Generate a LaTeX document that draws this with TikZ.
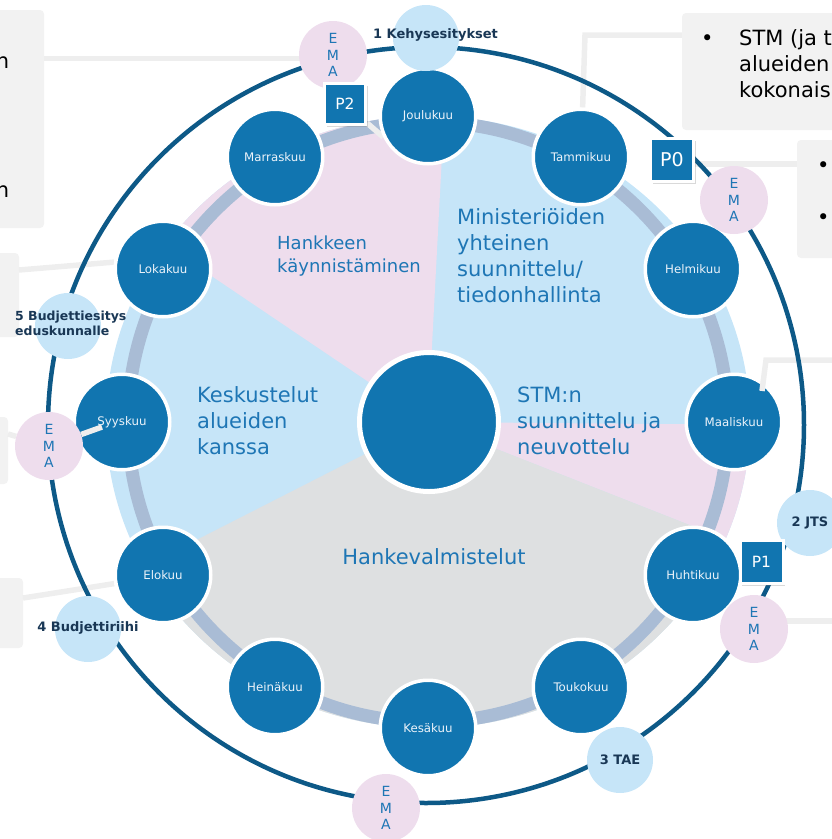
\documentclass[tikz,border=0pt]{standalone}
\usepackage{fontspec}
\setmainfont{DejaVu Sans}
\usetikzlibrary{shadows,calc}
\definecolor{mblue}{RGB}{17,117,176}
\definecolor{ringc}{RGB}{13,89,135}
\definecolor{pinkc}{RGB}{238,221,237}
\definecolor{lblue}{RGB}{198,229,248}
\definecolor{grayc}{RGB}{222,224,225}
\definecolor{trackc}{RGB}{169,188,213}
\definecolor{txtblue}{RGB}{30,118,181}
\definecolor{navy}{RGB}{25,55,85}
\definecolor{boxg}{RGB}{242,242,242}
\definecolor{lineg}{RGB}{238,238,238}
\definecolor{mtext}{RGB}{236,243,250}
\pgfdeclarelayer{back}
\pgfdeclarelayer{lines}
\pgfdeclarelayer{over}
\pgfdeclarelayer{ringl}
\pgfdeclarelayer{top}
\pgfsetlayers{back,lines,main,over,ringl,top}
\begin{document}
\begin{tikzpicture}[x=1pt,y=-1pt,
 conn/.style={draw=lineg, line width=5.5pt},
 gbox/.style={fill=boxg, rounded corners=4pt, inner sep=0pt},
 month/.style={circle, fill=mblue, draw=white, line width=3.5pt, minimum size=95.5pt, inner sep=0pt, text=mtext, font=\fontsize{11.8}{14}\selectfont},
 hub/.style={circle, fill=mblue, draw=white, line width=5pt, minimum size=139pt, inner sep=0pt},
 mstone/.style={circle, fill=lblue, minimum size=66pt, inner sep=0pt},
 mstext/.style={font=\bfseries\fontsize{13}{15}\selectfont, text=navy, inner sep=0pt},
 ema/.style={circle, fill=pinkc, minimum size=68pt, inner sep=0pt, align=center, text=txtblue, font=\fontsize{14}{16.5}\selectfont},
 pbox/.style={rectangle, fill=mblue, draw=white, line width=3pt, text=white, inner sep=0pt, drop shadow={shadow xshift=2pt, shadow yshift=-2pt, opacity=0.3}},
 seclab/.style={text=txtblue, align=left, inner sep=0pt, font=\fontsize{21}{26}\selectfont},
 boxtext/.style={text=black, inner sep=0pt, font=\fontsize{21}{26}\selectfont},
]
\useasboundingbox (0,0) rectangle (832,839);

% ---------- background: callout boxes, wheel ----------
\begin{pgfonlayer}{back}
\node[gbox, minimum width=54pt, minimum height=218pt] (lb1) at (17,119) {};
\node[gbox, minimum width=178pt, minimum height=117pt] (tb1) at (771,71.5) {};
\node[gbox, minimum width=63pt, minimum height=118pt] (tb2) at (828.5,199) {};
\node[gbox, minimum width=29pt, minimum height=84pt] (lb4) at (4.5,295) {};
\node[gbox, minimum width=18pt, minimum height=67pt] (lb5) at (-1,450.5) {};
\node[gbox, minimum width=33pt, minimum height=70pt] (lb6) at (6.5,613) {};

\node[boxtext, anchor=base east] (t1) at (9.5,68) {n};
\node[boxtext, anchor=base east] (t2) at (9.5,197) {n};
\node[boxtext, anchor=base west] (t3) at (701,45.5) {•};
\node[boxtext, anchor=base west] (t4) at (739,45.5) {STM (ja t};
\node[boxtext, anchor=base west] (t5) at (739,71.5) {alueiden};
\node[boxtext, anchor=base west] (t6) at (739,97.5) {kokonais};
\node[boxtext, anchor=base west] (t7) at (817,172.5) {•};
\node[boxtext, anchor=base west] (t8) at (817,224.5) {•};

\coordinate (C) at (428,422);
\begin{scope}
\clip (C) ellipse [x radius=322, y radius=306];
\fill[lblue] (C) circle [radius=340];
\fill[pinkc] (C) -- ($(C)+(-146:600)$) -- ($(C)+(-116:600)$) -- ($(C)+(-87:600)$) -- cycle;
\fill[pinkc] (C) -- ($(C)+(0.5:600)$) -- ($(C)+(21.5:600)$) -- cycle;
\fill[grayc] (C) -- ($(C)+(21.5:600)$) -- ($(C)+(60:600)$) -- ($(C)+(100:600)$) -- ($(C)+(153:600)$) -- cycle;
\end{scope}
\draw[trackc, line width=13pt] (C) circle [radius=300];

\node[seclab, anchor=west, font=\fontsize{18}{23}\selectfont] (lA) at (277,256.5) {Hankkeen\\käynnistäminen};
\node[seclab, anchor=west] (lB) at (457,256) {Ministeriöiden\\yhteinen\\suunnittelu/\\tiedonhallinta};
\node[seclab, anchor=west] (lE) at (197,421) {Keskustelut\\alueiden\\kanssa};
\node[seclab, anchor=west] (lC) at (517,421) {STM:n\\suunnittelu ja\\neuvottelu};
\node[seclab] (lD) at (434,557) {Hankevalmistelut};
\end{pgfonlayer}

% ---------- month circles and hub ----------
\node[month] (jou) at (428,116) {Joulukuu};
\node[month] (tam) at (581,157) {Tammikuu};
\node[month] (hel) at (693,269) {Helmikuu};
\node[month] (maa) at (734,422) {Maaliskuu};
\node[month] (huh) at (693,575) {Huhtikuu};
\node[month] (tou) at (581,687) {Toukokuu};
\node[month] (kes) at (428,728) {Kesäkuu};
\node[month] (hei) at (275,687) {Heinäkuu};
\node[month] (elo) at (163,575) {Elokuu};
\node[month] (syy) at (122,422) {Syyskuu};
\node[month] (lok) at (163,269) {Lokakuu};
\node[month] (mar) at (275,157) {Marraskuu};
\node[hub] (hub) at (429,422) {};

% ---------- top elements ----------
\begin{pgfonlayer}{top}
\node[mstone] (ms1) at (426,38) {};
\node[mstext] (ms1t) at (435.5,35) {1 Kehysesitykset};
\node[mstone] (ms2) at (810,523) {};
\node[mstext] (ms2t) at (810,523) {2 JTS};
\node[mstone] (ms3) at (620,760) {};
\node[mstext] (ms3t) at (620,760) {3 TAE};
\node[mstone] (ms4) at (88,629) {};
\node[mstext] (ms4t) at (88,628) {4 Budjettiriihi};
\node[mstone] (ms5) at (68,326) {};
\node[mstext, align=left, anchor=west, font=\bfseries\fontsize{12.5}{15}\selectfont] (ms5t) at (15,323.5) {5 Budjettiesitys\\eduskunnalle};

\node[ema] (ema1) at (333,55) {E\\M\\A};
\node[ema] (ema2) at (734,200) {E\\M\\A};
\node[ema] (ema3) at (49,446) {E\\M\\A};
\node[ema] (ema4) at (754,629) {E\\M\\A};
\node[ema] (ema5) at (386,808) {E\\M\\A};

\node[pbox, minimum size=41pt, font=\fontsize{15.5}{18}\selectfont] (p2) at (345,104) {P2};
\node[pbox, minimum size=43pt, font=\fontsize{19}{22}\selectfont] (p0) at (672,160) {P0};
\node[pbox, minimum size=43pt, font=\fontsize{15.5}{18}\selectfont] (p1) at (761.5,562) {P1};
\end{pgfonlayer}

% ---------- connectors under the circles ----------
\begin{pgfonlayer}{lines}
\coordinate (ka) at (333,58.5);
\draw[conn] (lb1.east |- ka) -- (ka -| ema1);
\coordinate (kb) at (585,35);
\draw[conn] (tb1.west |- kb) -- (kb) -- (tam);
\coordinate (kc) at (700,164);
\draw[conn] (kc -| p0) -- (kc -| tb2.west);
\coordinate (ke) at (836,621);
\draw[conn] (ke -| ema4) -- (ke);
\draw[conn] (p2) -- (jou.205);
\coordinate (kg) at (19,270);
\draw[conn] (kg) -- (lok.172);
\coordinate (ki) at (23,598);
\draw[conn] (ki) -- (elo.190);
\end{pgfonlayer}

% ---------- connectors over the circles ----------
\begin{pgfonlayer}{over}
\coordinate (kd0) at ($(maa)+(28,-31)$);
\coordinate (kd) at (766,360);
\coordinate (kdR) at (836,360);
\draw[conn] (kd0) -- (kd) -- (kdR);
\coordinate (kh0) at (8,434);
\coordinate (kh) at (102,427);
\draw[conn] (kh0) -- (ema3) -- (kh);
\end{pgfonlayer}

% ---------- outer ring ----------
\begin{pgfonlayer}{ringl}
\draw[ringc, line width=4.5pt] (426,425) circle [radius=378];
\end{pgfonlayer}
\end{tikzpicture}
\end{document}
